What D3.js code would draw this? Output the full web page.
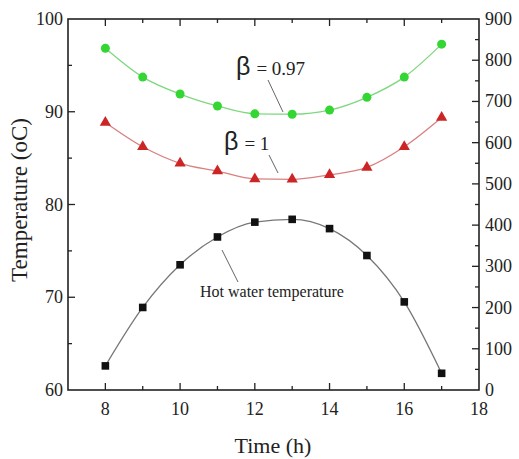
<!DOCTYPE html>
<html>
<head>
<meta charset="utf-8">
<script src="https://cdn.jsdelivr.net/npm/d3@7"></script>
<style>
  body { margin: 0; background: #fff; }
  svg { display: block; font-family: "Liberation Serif", "Times New Roman", serif; }
</style>
</head>
<body>
<svg width="519" height="459"></svg>
<script>
// data
const hours = [8, 9, 10, 11, 12, 13, 14, 15, 16, 17];
const hotWater = [62.6, 68.9, 73.5, 76.5, 78.1, 78.4, 77.4, 74.5, 69.5, 61.8];   // left axis
const beta097 = [829, 759, 718, 689, 670, 669, 679, 710, 759, 839];              // right axis
const beta1 = [649, 590, 550, 531, 512, 511, 522, 540, 590, 661];                // right axis
const xTicks = [8, 10, 12, 14, 16, 18];
const yLeftTicks = [60, 70, 80, 90, 100];
const yRightTicks = [0, 100, 200, 300, 400, 500, 600, 700, 800, 900];

const plotL = 68, plotR = 479, plotT = 19, plotB = 390;
const svg = d3.select("svg");

const x = d3.scaleLinear().domain([7, 18]).range([plotL, plotR]);
const yL = d3.scaleLinear().domain([60, 100]).range([plotB, plotT]);
const yR = d3.scaleLinear().domain([0, 900]).range([plotB, plotT]);

// frame
svg.append("rect")
    .attr("x", plotL).attr("y", plotT)
    .attr("width", plotR - plotL).attr("height", plotB - plotT)
    .attr("fill", "none").attr("stroke", "#222").attr("stroke-width", 1.6);

// ticks (all inside)
function ticksX(vals, len) {
    vals.forEach(v => {
        svg.append("line").attr("x1", x(v)).attr("x2", x(v)).attr("y1", plotB).attr("y2", plotB - len)
            .attr("stroke", "#222").attr("stroke-width", 1.3);
        svg.append("line").attr("x1", x(v)).attr("x2", x(v)).attr("y1", plotT).attr("y2", plotT + len)
            .attr("stroke", "#222").attr("stroke-width", 1.3);
    });
}
ticksX(d3.range(8, 18, 2), 7);
ticksX(d3.range(9, 18, 2), 4);

function ticksY(scale, vals, len, side) {
    vals.forEach(v => {
        const x0 = side == "l" ? plotL : plotR;
        const dx = side == "l" ? len : -len;
        svg.append("line").attr("x1", x0).attr("x2", x0 + dx).attr("y1", scale(v)).attr("y2", scale(v))
            .attr("stroke", "#222").attr("stroke-width", 1.3);
    });
}
ticksY(yL, [70, 80, 90], 7, "l");
ticksY(yL, [65, 75, 85, 95], 4, "l");
ticksY(yR, d3.range(100, 900, 100), 7, "r");
ticksY(yR, d3.range(50, 900, 100), 4, "r");

// tick labels
svg.selectAll(".xl").data(xTicks).enter().append("text")
    .attr("x", d => x(d)).attr("y", 415)
    .attr("text-anchor", "middle").attr("font-size", 18).attr("fill", "#222")
    .text(d => d);
svg.selectAll(".yl").data(yLeftTicks).enter().append("text")
    .attr("x", plotL - 5).attr("y", d => yL(d) + 6)
    .attr("text-anchor", "end").attr("font-size", 18).attr("fill", "#222")
    .text(d => d);
svg.selectAll(".yr").data(yRightTicks).enter().append("text")
    .attr("x", plotR + 6).attr("y", d => yR(d) + 6)
    .attr("font-size", 18).attr("fill", "#222")
    .text(d => d);

// axis titles
svg.append("text").attr("x", 273).attr("y", 453)
    .attr("text-anchor", "middle").attr("font-size", 22).attr("fill", "#222")
    .text("Time (h)");
svg.append("text").attr("transform", "translate(27,200) rotate(-90)")
    .attr("text-anchor", "middle").attr("font-size", 23).attr("fill", "#222")
    .text("Temperature (oC)");

// series
const line = scale => d3.line().x((d, i) => x(hours[i])).y(d => scale(d)).curve(d3.curveMonotoneX);

svg.append("path").datum(beta097).attr("d", line(yR))
    .attr("fill", "none").attr("stroke", "#7fd87f").attr("stroke-width", 1.3);
svg.append("path").datum(beta1).attr("d", line(yR))
    .attr("fill", "none").attr("stroke", "#d98080").attr("stroke-width", 1.3);
svg.append("path").datum(hotWater).attr("d", line(yL))
    .attr("fill", "none").attr("stroke", "#777").attr("stroke-width", 1.3);

svg.selectAll(".g").data(beta097).enter().append("circle")
    .attr("cx", (d, i) => x(hours[i])).attr("cy", d => yR(d)).attr("r", 4.5)
    .attr("fill", "#33d633");
svg.selectAll(".r").data(beta1).enter().append("path")
    .attr("transform", (d, i) => "translate(" + x(hours[i]) + "," + yR(d) + ")")
    .attr("d", d3.symbol(d3.symbolTriangle, 55))
    .attr("fill", "#cc2525");
svg.selectAll(".b").data(hotWater).enter().append("rect")
    .attr("x", (d, i) => x(hours[i]) - 3.8).attr("y", d => yL(d) - 3.8)
    .attr("width", 7.6).attr("height", 7.6)
    .attr("fill", "#111");

// annotations
function leader(x1, y1, x2, y2) {
    svg.append("line").attr("x1", x1).attr("y1", y1).attr("x2", x2).attr("y2", y2)
        .attr("stroke", "#666").attr("stroke-width", 1);
}
let t = svg.append("text").attr("x", 236).attr("y", 75).attr("fill", "#222");
t.append("tspan").attr("font-family", "Liberation Sans").attr("font-size", 25).text("β");
t.append("tspan").attr("font-size", 19).attr("dx", 6).text("= 0.97");
leader(268, 80, 283, 112);

t = svg.append("text").attr("x", 224).attr("y", 150).attr("fill", "#222");
t.append("tspan").attr("font-family", "Liberation Sans").attr("font-size", 25).text("β");
t.append("tspan").attr("font-size", 19).attr("dx", 6).text("= 1");
leader(269, 155, 278, 173);

svg.append("text").attr("x", 200).attr("y", 297)
    .attr("font-size", 16).attr("fill", "#222")
    .text("Hot water temperature");
leader(222, 250, 238, 282);
</script>
</body>
</html>
